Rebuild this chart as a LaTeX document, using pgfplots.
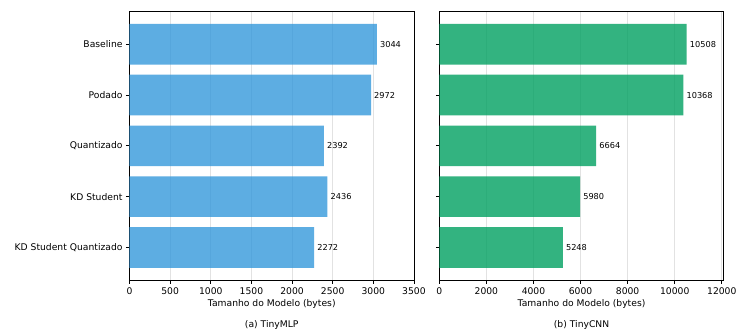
\documentclass[border=0pt]{standalone}
\usepackage{fontspec}
\setmainfont{DejaVu Sans}
\usepackage{pgfplots}
\pgfplotsset{compat=1.18}
\definecolor{cblue}{HTML}{3498DB}
\definecolor{cgreen}{RGB}{0,160,96}
\definecolor{gridc}{RGB}{226,226,226}
\newcommand{\tickfont}{\fontsize{9.2}{11}\selectfont}
\newcommand{\valfont}{\fontsize{8.2}{10}\selectfont}
\begin{document}
\begin{tikzpicture}
\path[use as bounding box] (0pt,0pt) rectangle (736pt,331pt);
\pgfplotsset{
  myax/.style={
    scale only axis, width=284.5pt, height=268.3pt,
    anchor=south west,
    xbar, bar width=0.8,
    ymin=-0.64, ymax=4.64, y dir=reverse,
    ytick={0,1,2,3,4},
    xmin=0,
    /pgf/number format/1000 sep={},
    /pgf/number format/assume math mode=true,
    scaled x ticks=false,
    tick pos=left, tick align=outside, major tick length=3.5pt,
    tick style={black, line width=0.8pt},
    axis line style={black, line width=0.8pt},
    xmajorgrids, major grid style={gridc, line width=0.8pt},
    ticklabel style={font=\tickfont},
    xticklabel style={inner sep=0pt, yshift=-4pt},
    yticklabel style={inner sep=0pt, xshift=-3.3pt},
    xlabel={Tamanho do Modelo (bytes)},
    xlabel style={font=\tickfont, at={(axis description cs:0.5,0)}, anchor=center, yshift=-23.5pt},
    nodes near coords,
    every node near coord/.append style={font=\valfont, anchor=west, inner sep=0pt, xshift=3pt, black},
    clip=false,
  }
}
\begin{axis}[myax, at={(129.5pt,51pt)}, xmax=3500.6, xtick={0,500,...,3500},
  yticklabels={Baseline,Podado,Quantizado,KD Student,KD Student Quantizado}]
\addplot[fill=cblue, fill opacity=0.8, draw=none, text opacity=1] coordinates {(3044,0) (2972,1) (2392,2) (2436,3) (2272,4)};
\node[font=\tickfont] at (rel axis cs:0.5,0) [yshift=-45pt] {(a) TinyMLP};
\end{axis}
\begin{axis}[myax, at={(439.3pt,51pt)}, xmax=12084.2, xtick={0,2000,...,12000},
  yticklabels={}]
\addplot[fill=cgreen, fill opacity=0.8, draw=none, text opacity=1] coordinates {(10508,0) (10368,1) (6664,2) (5980,3) (5248,4)};
\node[font=\tickfont] at (rel axis cs:0.5,0) [yshift=-45pt] {(b) TinyCNN};
\end{axis}
\end{tikzpicture}
\end{document}
